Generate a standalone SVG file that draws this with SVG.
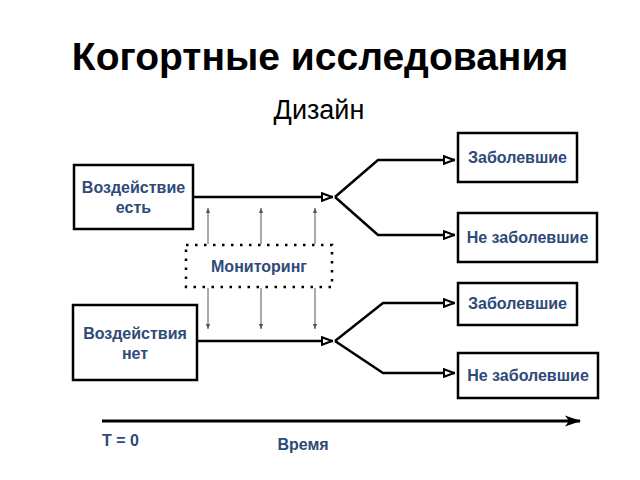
<svg xmlns="http://www.w3.org/2000/svg" width="640" height="480" viewBox="0 0 640 480">
<style>
.box{fill:#fff;stroke:#000;stroke-width:2.5}
.lbl{font-family:"Liberation Sans",Arial,sans-serif;font-weight:bold;font-size:16px;fill:#2e4a78;text-anchor:middle}
.conn{fill:none;stroke:#000;stroke-width:2.5}
.mon{fill:none;stroke:#555;stroke-width:1}
</style>
<defs>
<marker id="tri" viewBox="0 0 12 10" refX="12" refY="5" markerWidth="12" markerHeight="10" markerUnits="userSpaceOnUse" orient="auto">
<path d="M1,1.2 L11,5 L1,8.8 Z" fill="#fff" stroke="#000" stroke-width="2"/>
</marker>
<marker id="thin" viewBox="0 0 6 6" refX="6" refY="3" markerWidth="5" markerHeight="5" markerUnits="userSpaceOnUse" orient="auto">
<path d="M0,0.5 L6,3 L0,5.5 Z" fill="#555"/>
</marker>
<marker id="stealth" viewBox="0 0 16 12" refX="15" refY="6" markerWidth="16" markerHeight="12" markerUnits="userSpaceOnUse" orient="auto">
<path d="M0,0.5 L16,6 L0,11.5 L4,6 Z" fill="#000"/>
</marker>
</defs>
<rect width="640" height="480" fill="#fff"/>
<text x="320" y="70" font-family="Liberation Sans,Arial,sans-serif" font-weight="bold" font-size="39" text-anchor="middle" fill="#000">Когортные исследования</text>
<text x="319" y="119" font-family="Liberation Sans,Arial,sans-serif" font-size="27" text-anchor="middle" fill="#000">Дизайн</text>

<g id="connectors">
<path class="conn" d="M193,197 H333" marker-end="url(#tri)"/>
<path class="conn" d="M335,197 L378,160 H455" marker-end="url(#tri)"/>
<path class="conn" d="M335,197 L378,235 H455" marker-end="url(#tri)"/>
<path class="conn" d="M197,341 H333" marker-end="url(#tri)"/>
<path class="conn" d="M335,341 L383,303 H455" marker-end="url(#tri)"/>
<path class="conn" d="M335,341 L383,373 H455" marker-end="url(#tri)"/>
<path class="mon" d="M208,244 V208" marker-end="url(#thin)"/>
<path class="mon" d="M261,244 V208" marker-end="url(#thin)"/>
<path class="mon" d="M315,244 V208" marker-end="url(#thin)"/>
<path class="mon" d="M208,288 V329" marker-end="url(#thin)"/>
<path class="mon" d="M261,288 V329" marker-end="url(#thin)"/>
<path class="mon" d="M315,288 V329" marker-end="url(#thin)"/>
<path d="M102,421 H580" fill="none" stroke="#000" stroke-width="3" marker-end="url(#stealth)"/>
</g>

<g id="exposed">
<rect class="box" x="74" y="165" width="119" height="64"/>
<text class="lbl" x="133.5" y="193">Воздействие</text>
<text class="lbl" x="133.5" y="213">есть</text>
</g>
<g id="unexposed">
<rect class="box" x="73" y="305" width="124" height="75"/>
<text class="lbl" x="135" y="339">Воздействия</text>
<text class="lbl" x="135" y="359">нет</text>
</g>
<g id="monitoring">
<rect x="186" y="245" width="146" height="42" fill="none" stroke="#000" stroke-width="2.5" stroke-dasharray="2.5 6.5"/>
<text class="lbl" x="259" y="272">Мониторинг</text>
</g>
<g id="sick1">
<rect class="box" x="458" y="133" width="119" height="49"/>
<text class="lbl" x="517.5" y="163">Заболевшие</text>
</g>
<g id="healthy1">
<rect class="box" x="458" y="213" width="139" height="49"/>
<text class="lbl" x="527.5" y="243">Не заболевшие</text>
</g>
<g id="sick2">
<rect class="box" x="458" y="283" width="119" height="42"/>
<text class="lbl" x="517.5" y="309">Заболевшие</text>
</g>
<g id="healthy2">
<rect class="box" x="458" y="353" width="140" height="45"/>
<text class="lbl" x="528" y="381">Не заболевшие</text>
</g>
<g id="time">
<text class="lbl" x="102" y="446" style="text-anchor:start">T = 0</text>
<text class="lbl" x="303" y="450">Время</text>
</g>
</svg>
